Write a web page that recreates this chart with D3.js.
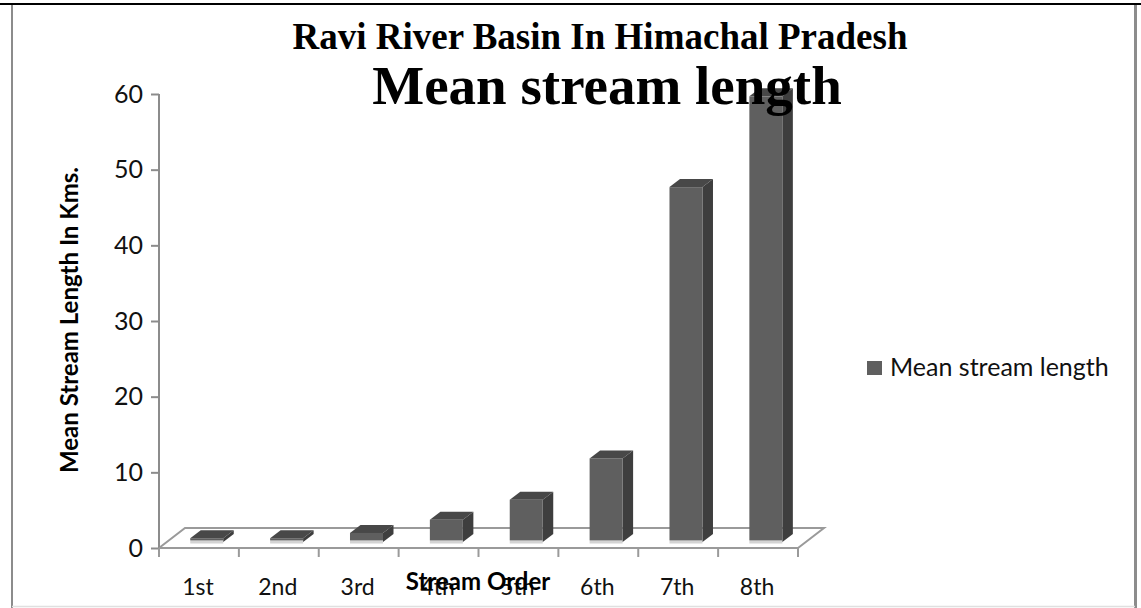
<!DOCTYPE html>
<meta charset="utf-8">
<style>
    body { margin: 0; background: #fff; }
    .tick text { font-family: Lato, "Noto Sans", sans-serif; fill: #111; }
    .title { font-family: "Liberation Serif", "DejaVu Serif", serif; font-weight: bold; fill: #000; }
    .axis-title { font-family: Lato, "Noto Sans", sans-serif; font-weight: bold; fill: #000; }
</style>
<svg width="1141" height="608"></svg>
<script src="https://d3js.org/d3.v7.min.js"></script>
<script>
    // chart data
    const categories = ["1st", "2nd", "3rd", "4th", "5th", "6th", "7th", "8th"];
    const meanLength = [0.5, 0.5, 1.2, 2.95, 5.6, 11.05, 46.9, 58.9];
    const yTicks = [0, 10, 20, 30, 40, 50, 60];
    const seriesName = "Mean stream length";

    let svg = d3.select("svg");

    // frame
    svg.append("line").attr("x1", 0).attr("x2", 1141).attr("y1", 4).attr("y2", 4)
        .attr("stroke", "#000").attr("stroke-width", 2);
    svg.append("line").attr("x1", 12).attr("x2", 12).attr("y1", 5).attr("y2", 608)
        .attr("stroke", "#8c8c8c").attr("stroke-width", 2);
    svg.append("line").attr("x1", 1135.5).attr("x2", 1135.5).attr("y1", 5).attr("y2", 608)
        .attr("stroke", "#8c8c8c").attr("stroke-width", 3);
    svg.append("line").attr("x1", 12).attr("x2", 1135).attr("y1", 606.5).attr("y2", 606.5)
        .attr("stroke", "#e0e0e0").attr("stroke-width", 1.5);

    // scales
    let x = d3.scaleBand().domain(categories).range([159, 798]);
    let y = d3.scaleLinear().domain([0, 60]).range([548, 94]);

    // 3d offsets
    const depthX = 26, depthY = -20;      // floor depth
    const barOffX = 7.8, barOffY = -6;    // where bars stand on the floor
    const barDX = 10.5, barDY = -8;       // bar depth
    const barW = 33;

    // floor
    let floor = svg.append("g").attr("fill", "none").attr("stroke", "#9a9a9a").attr("stroke-width", 2);
    floor.append("path").attr("d",
        "M" + x.range()[0] + "," + y(0) +
        "L" + (x.range()[0] + depthX) + "," + (y(0) + depthY) +
        "L" + (x.range()[1] + depthX) + "," + (y(0) + depthY) +
        "L" + x.range()[1] + "," + y(0));

    // y axis
    let yAxis = svg.append("g").attr("transform", "translate(159,0)")
        .call(d3.axisLeft(y).tickValues(yTicks).tickSize(8).tickPadding(10));
    yAxis.selectAll("line, path").attr("stroke", "#8c8c8c").attr("stroke-width", 2);
    yAxis.select(".domain").attr("d", "M0," + y(60) + "V" + y(0));
    yAxis.selectAll(".tick text").style("font-size", "25px").attr("dx", 2);

    // x axis
    let xAxis = svg.append("g").attr("transform", "translate(0," + y(0) + ")")
        .call(d3.axisBottom(x).tickSize(0).tickPadding(31));
    xAxis.select(".domain").attr("stroke", "#9a9a9a").attr("stroke-width", 2)
        .attr("d", "M" + x.range()[0] + ",0H" + x.range()[1]);
    xAxis.selectAll(".tick text").attr("dx", -1).style("font-size", "23px");
    let xt = categories.concat(["end"]);
    xAxis.selectAll(".xtick").data(xt).enter().append("line")
        .attr("x1", (d, i) => i < categories.length ? x(d) : x.range()[1])
        .attr("x2", (d, i) => i < categories.length ? x(d) : x.range()[1])
        .attr("y1", 0).attr("y2", 9)
        .attr("stroke", "#9a9a9a").attr("stroke-width", 2);

    // bars
    let bars = svg.append("g").selectAll("g")
        .data(meanLength)
        .enter().append("g");

    function fx(d, i) { return x(categories[i]) + x.bandwidth() / 2 - barW / 2 + barOffX; }

    // floor glint under bars
    bars.append("rect")
        .attr("x", (d, i) => fx(d, i))
        .attr("y", y(0) + barOffY - 1)
        .attr("width", barW).attr("height", 2.5)
        .attr("fill", "#d4d4d4");
    // side face
    bars.append("path")
        .attr("d", function(d, i) {
            let x0 = fx(d, i) + barW, top = y(d) + barOffY, bot = y(0) + barOffY;
            return "M" + x0 + "," + top + "L" + (x0 + barDX) + "," + (top + barDY) +
                "L" + (x0 + barDX) + "," + (bot + barDY) + "L" + x0 + "," + bot + "Z";
        })
        .attr("fill", "#3e3e3e");
    // top face
    bars.append("path")
        .attr("d", function(d, i) {
            let x0 = fx(d, i), top = y(d) + barOffY;
            return "M" + x0 + "," + top + "L" + (x0 + barDX) + "," + (top + barDY) +
                "L" + (x0 + barW + barDX) + "," + (top + barDY) + "L" + (x0 + barW) + "," + top + "Z";
        })
        .attr("fill", "#484848");
    // front face
    bars.append("rect")
        .attr("x", (d, i) => fx(d, i))
        .attr("y", d => y(d) + barOffY)
        .attr("width", barW)
        .attr("height", d => y(0) - y(d) - 1.5)
        .attr("fill", "#5f5f5f");

    // titles
    svg.append("text").attr("class", "title")
        .attr("x", 600).attr("y", 49).attr("text-anchor", "middle")
        .style("font-size", "37px")
        .text("Ravi River Basin In Himachal Pradesh");
    svg.append("text").attr("class", "title")
        .attr("x", 607).attr("y", 104).attr("text-anchor", "middle")
        .style("font-size", "55px")
        .text("Mean stream length");

    // axis titles
    svg.append("text").attr("class", "axis-title")
        .attr("transform", "translate(78," + 320 + ") rotate(-90)")
        .attr("text-anchor", "middle")
        .style("font-size", "24px")
        .text("Mean Stream Length In Kms.");
    svg.append("text").attr("class", "axis-title")
        .attr("x", 478).attr("y", 590).attr("text-anchor", "middle")
        .style("font-size", "24px")
        .text("Stream Order");

    // legend
    svg.append("rect").attr("x", 867).attr("y", 361).attr("width", 15).attr("height", 14)
        .attr("fill", "#5f5f5f");
    svg.append("text").attr("x", 890).attr("y", 376)
        .style("font-family", "Lato, sans-serif").style("font-size", "25px").attr("fill", "#111")
        .text(seriesName);
</script>
<body>
</body>
